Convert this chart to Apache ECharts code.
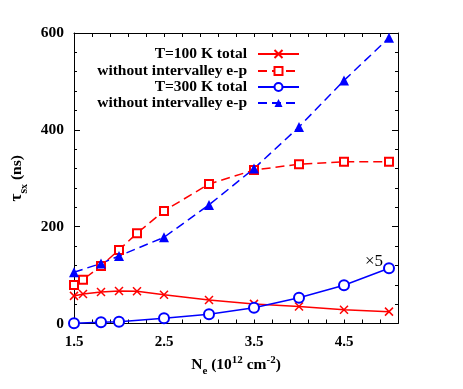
<!DOCTYPE html>
<html>
<head>
<meta charset="utf-8">
<script src="https://cdn.jsdelivr.net/npm/echarts@6/dist/echarts.min.js"></script>
<style>html,body{margin:0;padding:0;background:#fff}#c{width:463px;height:389px}</style>
</head>
<body>
<div id="c"></div>
<script>
// ---- data ----
var xT100 = [1.5, 1.6, 1.8, 2.0, 2.2, 2.5, 3.0, 3.5, 4.0, 4.5, 5.0];
var yT100total = [57, 61, 65, 67, 66.5, 59.5, 48.5, 40.5, 35, 28.5, 24.5];
var yT100noIV = [79.5, 90.5, 119, 152, 186.5, 232.5, 288, 317, 329, 334, 334];
var xT300 = [1.5, 1.8, 2.0, 2.5, 3.0, 3.5, 4.0, 4.5, 5.0];
var yT300total = [0.5, 2.5, 3.5, 11, 19, 32.5, 53, 79, 114];
var yT300noIV = [106, 124, 139.5, 178, 245, 320, 406, 502, 590];
var legendLabels = ['T=100 K total', 'without intervalley e-p', 'T=300 K total', 'without intervalley e-p'];
var xTickLabels = [1.5, 2.5, 3.5, 4.5];
var yTickLabels = [0, 200, 400, 600];
var annotation = '\u00d75';

function pairs(xs, ys) { return xs.map(function (x, i) { return [x, ys[i]]; }); }

var RED = '#ff0000', BLUE = '#0000ff';
var FONT = 'Liberation Serif';
var crossPath = 'path://M0,0L10,10M0,10L10,0';

function xAxisCfg(pos, showLabel) {
  return {
    type: 'value', position: pos, min: 1.5, max: 5.1, interval: 0.2,
    axisLine: { show: true, onZero: false, lineStyle: { color: '#000', width: 1 } },
    axisTick: { show: true, inside: true, length: 4, lineStyle: { color: '#000' } },
    splitLine: { show: false },
    axisLabel: {
      show: showLabel, margin: 11, color: '#000', fontFamily: FONT, fontWeight: 'bold', fontSize: 15,
      showMaxLabel: false,
      formatter: function (v) {
        for (var i = 0; i < xTickLabels.length; i++) if (Math.abs(v - xTickLabels[i]) < 1e-6) return String(xTickLabels[i]);
        return '';
      }
    }
  };
}
function yAxisCfg(pos, showLabel) {
  return {
    type: 'value', position: pos, min: 0, max: 600, interval: 200,
    axisLine: { show: true, onZero: false, lineStyle: { color: '#000', width: 1 } },
    axisTick: { show: true, inside: true, length: 6, lineStyle: { color: '#000' } },
    minorTick: { show: true, splitNumber: 5, length: 3, lineStyle: { color: '#000' } },
    splitLine: { show: false },
    axisLabel: {
      show: showLabel, margin: 10, color: '#000', fontFamily: FONT, fontWeight: 'bold', fontSize: 15.5,
      formatter: function (v) { return yTickLabels.indexOf(v) >= 0 ? String(v) : ''; }
    }
  };
}

var xMain = xAxisCfg('bottom', true);
xMain.name = '{n|N}{e|e}{r| (10}{sup|12}{r| cm}{sup|-2}{r|)}';
xMain.nameLocation = 'middle';
xMain.nameGap = 30;
xMain.nameTextStyle = {
  color: '#000', fontFamily: FONT, fontWeight: 'bold', fontSize: 15,
  rich: {
    n: { fontFamily: FONT, fontWeight: 'bold', fontSize: 15.5, lineHeight: 22, verticalAlign: 'middle' },
    e: { fontFamily: FONT, fontWeight: 'bold', fontSize: 11, lineHeight: 11, verticalAlign: 'bottom' },
    r: { fontFamily: FONT, fontWeight: 'bold', fontSize: 15.5, lineHeight: 22, verticalAlign: 'middle' },
    sup: { fontFamily: FONT, fontWeight: 'bold', fontSize: 11, lineHeight: 11, verticalAlign: 'top' }
  }
};
var yMain = yAxisCfg('left', true);
yMain.name = '{t|\u03c4}{s|s}{x|x}{r| (ns)}';
yMain.nameLocation = 'middle';
yMain.nameRotate = 90;
yMain.nameGap = 44;
yMain.nameTextStyle = {
  color: '#000', fontFamily: FONT, fontWeight: 'bold', fontSize: 15,
  rich: {
    t: { fontFamily: FONT, fontWeight: 'bold', fontSize: 17, lineHeight: 26, verticalAlign: 'middle' },
    s: { fontFamily: FONT, fontWeight: 'bold', fontSize: 12, lineHeight: 15, verticalAlign: 'bottom' },
    x: { fontFamily: FONT, fontWeight: 'bold', fontSize: 10, lineHeight: 9, verticalAlign: 'bottom' },
    r: { fontFamily: FONT, fontWeight: 'bold', fontSize: 15.5, lineHeight: 26, verticalAlign: 'middle' }
  }
};

function legendCfg(idx, top) {
  return {
    data: ['s' + idx], right: 163, top: top, orient: 'vertical', align: 'right',
    padding: 0, itemWidth: 41, itemHeight: 10, selectedMode: false,
    formatter: function () { return legendLabels[idx]; },
    textStyle: { fontFamily: FONT, fontWeight: 'bold', fontSize: 15.5, color: '#000', padding: [0, 6, 0, 0] }
  };
}

var option = {
  backgroundColor: '#fff',
  animation: false,
  grid: { left: 74, right: 65, top: 33, bottom: 65.5, containLabel: false },
  xAxis: [xMain, xAxisCfg('top', false)],
  yAxis: [yMain, yAxisCfg('right', false)],
  legend: [legendCfg(0, 46), legendCfg(1, 63), legendCfg(2, 79), legendCfg(3, 95)],
  series: [
    {
      name: 's0', type: 'line', data: pairs(xT100, yT100total),
      symbol: crossPath, symbolSize: 8,
      lineStyle: { color: RED, width: 1.5, type: 'solid' },
      itemStyle: { color: RED, borderColor: RED, borderWidth: 1.5 }
    },
    {
      name: 's1', type: 'line', data: pairs(xT100, yT100noIV),
      symbol: 'emptyRect', symbolSize: 8,
      lineStyle: { color: RED, width: 1.5, type: [9, 5] },
      itemStyle: { color: RED, borderColor: RED, borderWidth: 1.5 }
    },
    {
      name: 's2', type: 'line',
      data: pairs(xT300, yT300total).map(function (p, i, arr) {
        if (i === arr.length - 1) {
          return {
            value: p,
            label: {
              show: true, formatter: annotation, position: 'inside', offset: [-15, -7],
              fontFamily: FONT, fontSize: 17, color: '#000'
            }
          };
        }
        return p;
      }),
      symbol: 'emptyCircle', symbolSize: 10,
      lineStyle: { color: BLUE, width: 1.5, type: 'solid' },
      itemStyle: { color: BLUE, borderColor: BLUE, borderWidth: 1.5 }
    },
    {
      name: 's3', type: 'line', data: pairs(xT300, yT300noIV),
      symbol: 'triangle', symbolSize: 10,
      lineStyle: { color: BLUE, width: 1.5, type: [9, 5] },
      itemStyle: { color: BLUE, borderColor: BLUE, borderWidth: 0 }
    }
  ]
};

var chart = echarts.init(document.getElementById('c'), null, { renderer: 'canvas' });
chart.setOption(option);
</script>
</body>
</html>
